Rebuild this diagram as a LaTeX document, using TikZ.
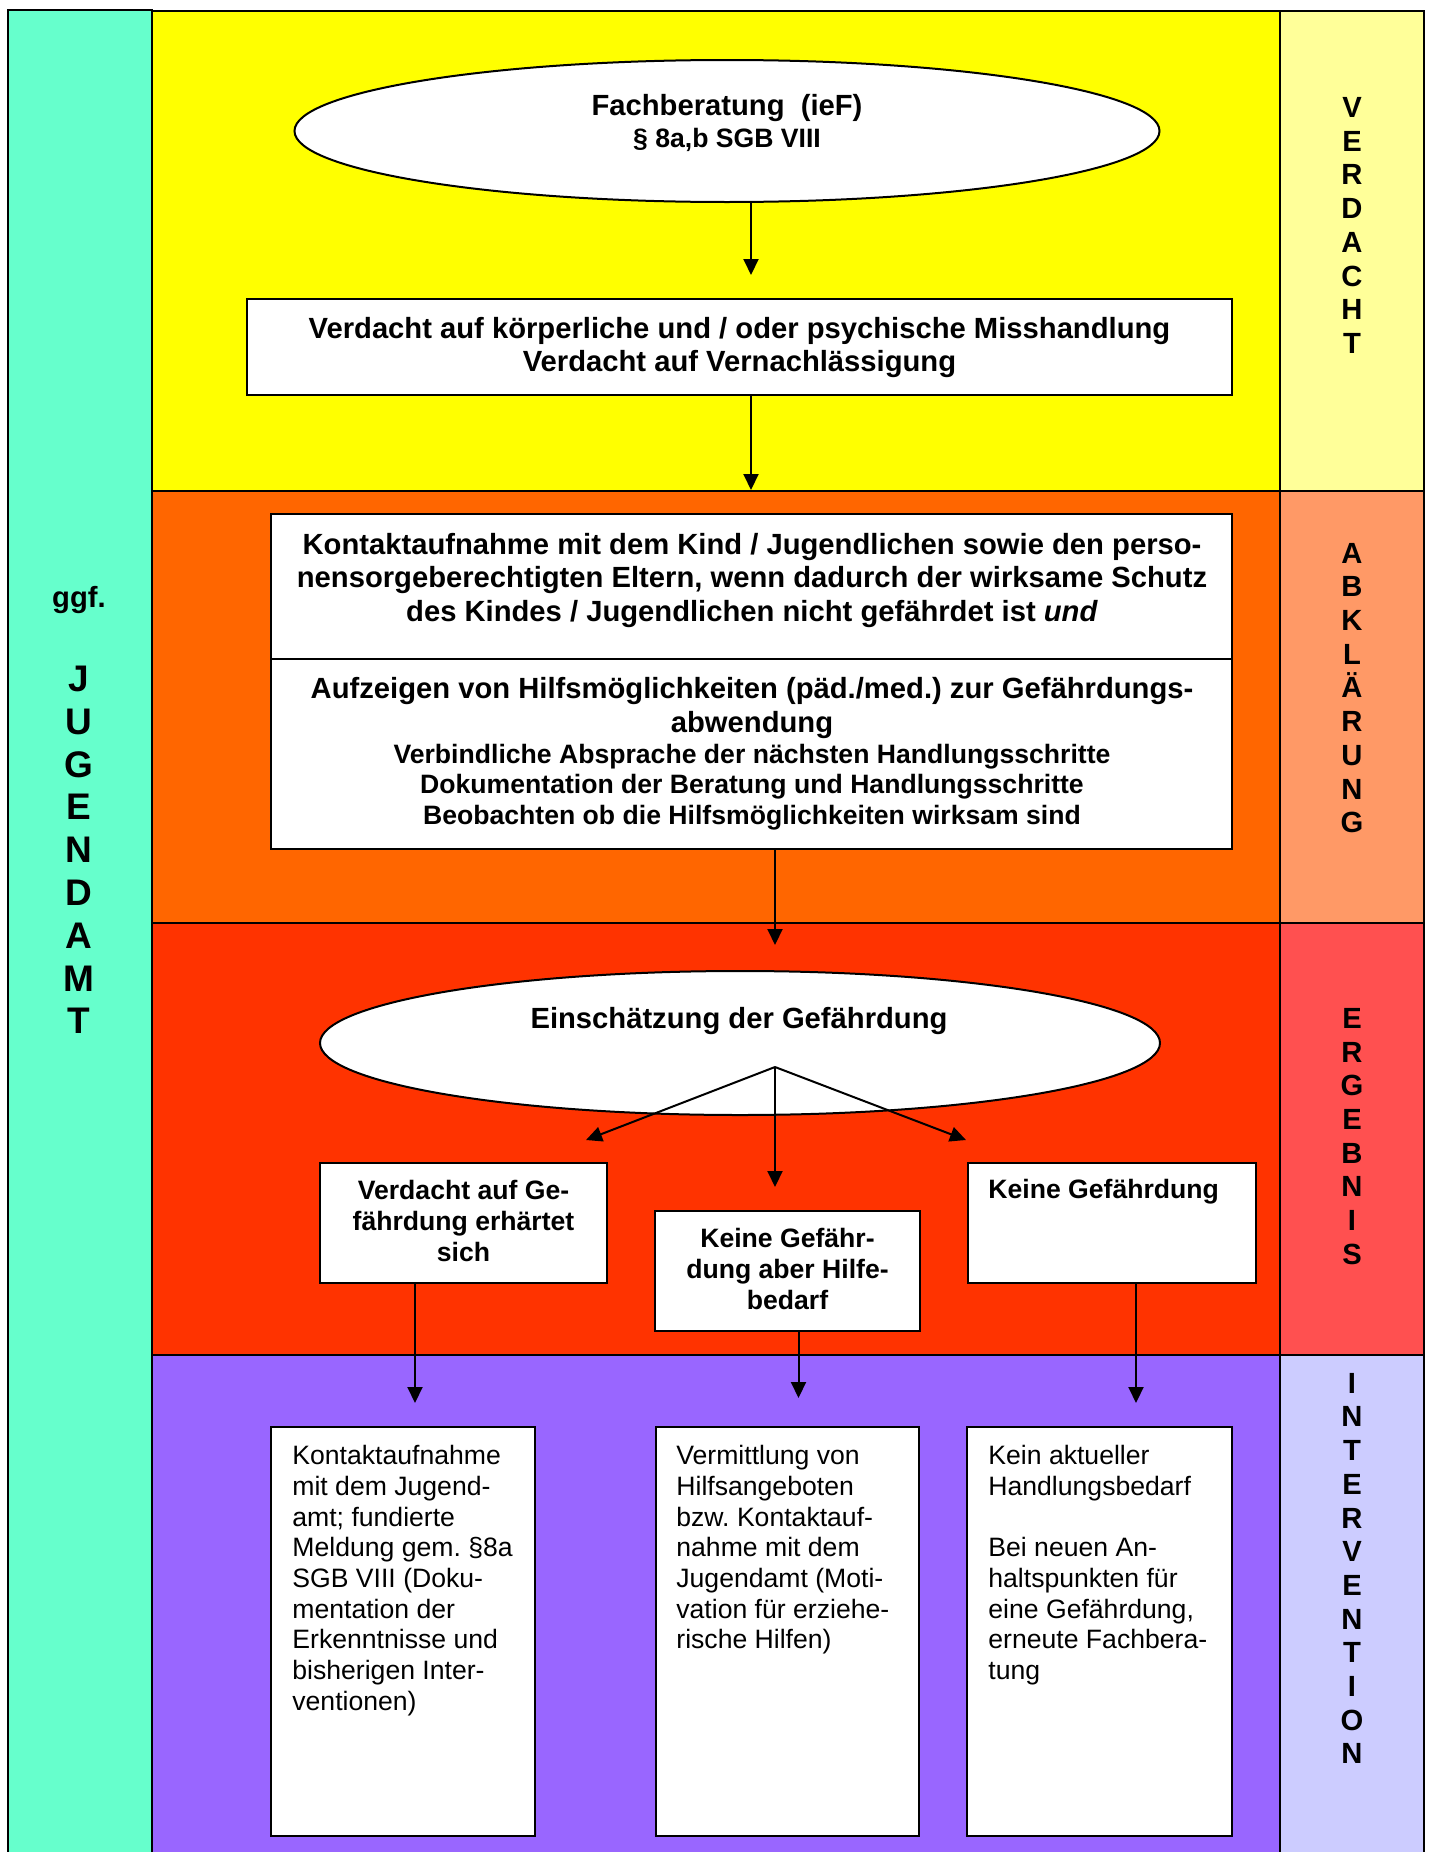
\documentclass[tikz,border=0pt]{standalone}
\usepackage{fontspec}
\setmainfont{Liberation Sans}
\frenchspacing
\usetikzlibrary{shapes.geometric,arrows.meta}
\definecolor{cyanc}{HTML}{66FFCC}
\definecolor{yelA}{HTML}{FFFF00}
\definecolor{yelB}{HTML}{FFFF99}
\definecolor{oraA}{HTML}{FF6600}
\definecolor{oraB}{HTML}{FF9966}
\definecolor{redA}{HTML}{FF3300}
\definecolor{redB}{HTML}{FF5050}
\definecolor{purA}{HTML}{9966FF}
\definecolor{purB}{HTML}{CCCCFF}
\tikzset{
  band/.style={draw=black, line width=1pt},
  wbox/.style={draw=black, fill=white, line width=1pt, rectangle, inner sep=0pt},
  oval/.style={draw=black, fill=white, line width=1pt, ellipse, inner sep=0pt},
  arr/.style={-{Triangle[length=8pt,width=7.5pt]}, line width=1pt},
  bigtxt/.style={font=\fontsize{14.6}{16.8}\selectfont\bfseries, align=center, inner sep=0pt},
  midtxt/.style={font=\fontsize{13.3}{15.4}\selectfont\bfseries, align=center, inner sep=0pt},
  regtxt/.style={font=\fontsize{13.3}{15.35}\selectfont, align=left, inner sep=0pt, anchor=north west},
  vlabel/.style={font=\fontsize{14.6}{16.85}\selectfont\bfseries, align=center, inner sep=0pt},
  jlabel/.style={font=\fontsize{18.5}{21.4}\selectfont\bfseries, align=center, inner sep=0pt}
}
\begin{document}
\begin{tikzpicture}[x=0.5pt, y=-0.5pt]
\useasboundingbox (0,0) rectangle (1431,1852);
\clip (0,0) rectangle (1431,1852);
% bands
\draw[band, fill=cyanc] (8,10) rectangle (152,1870);
\draw[band, fill=yelA] (152,11) rectangle (1280,491);
\draw[band, fill=yelB] (1280,11) rectangle (1424,491);
\draw[band, fill=oraA] (152,491) rectangle (1280,923);
\draw[band, fill=oraB] (1280,491) rectangle (1424,923);
\draw[band, fill=redA] (152,923) rectangle (1280,1355);
\draw[band, fill=redB] (1280,923) rectangle (1424,1355);
\draw[band, fill=purA] (152,1355) rectangle (1280,1870);
\draw[band, fill=purB] (1280,1355) rectangle (1424,1870);

% side labels
\node[vlabel] (lv) at (1352,225.5) {V\\E\\R\\D\\A\\C\\H\\T};
\node[vlabel] (la) at (1352,688) {A\\B\\K\\L\\Ä\\R\\U\\N\\G};
\node[vlabel] (le) at (1352,1136.5) {E\\R\\G\\E\\B\\N\\I\\S};
\node[vlabel] (li) at (1352,1568.5) {I\\N\\T\\E\\R\\V\\E\\N\\T\\I\\O\\N};
\node[vlabel, anchor=base] (lg) at (79,607) {ggf.};
\node[jlabel] (lj) at (79,850) {J\\U\\G\\E\\N\\D\\A\\M\\T};

% VERDACHT band
\node[oval, minimum width=432.5pt, minimum height=71pt] (fb) at (727,131) {};
\node[bigtxt] (fbt) at (727,108) {Fachberatung\ \ (ieF)};
\node[midtxt] (fbs) at (727,140) {§ 8a,b SGB VIII};
\coordinate (c1) at (751,275);
\draw[arr] (fb.south -| c1) -- (c1);

\node[wbox, minimum width=492.5pt, minimum height=48pt] (vd) at (739.5,347) {};
\node[bigtxt] (vdt) at (739.5,347.5) {Verdacht auf körperliche und / oder psychische Misshandlung\\Verdacht auf Vernachlässigung};
\coordinate (c2) at (751,490);
\draw[arr] (vd.south -| c2) -- (c2);

% ABKLAERUNG band
\node[wbox, minimum width=480.5pt, minimum height=72.5pt] (kt) at (751.5,586.5) {};
\node[wbox, minimum width=480.5pt, minimum height=95pt] (hm) at (751.5,754) {};
\node[bigtxt] (ktt) at (752,580.5) {Kontaktaufnahme mit dem Kind / Jugendlichen sowie den perso-\\nensorgeberechtigten Eltern, wenn dadurch der wirksame Schutz\\des Kindes / Jugendlichen nicht gefährdet ist \textit{und}};
\node[bigtxt] (hmt) at (752,708) {Aufzeigen von Hilfsmöglichkeiten (päd./med.) zur Gefährdungs-\\abwendung};
\node[midtxt] (hms) at (752,787) {Verbindliche Absprache der nächsten Handlungsschritte\\Dokumentation der Beratung und Handlungsschritte\\Beobachten ob die Hilfsmöglichkeiten wirksam sind};
\coordinate (c3) at (775,945);
\draw[arr] (hm.south -| c3) -- (c3);

% ERGEBNIS band
\node[oval, minimum width=420pt, minimum height=72pt] (eg) at (740,1043) {};
\node[bigtxt] (egt) at (739,1021) {Einschätzung der Gefährdung};
\coordinate (br) at (775,1067);
\coordinate (tl) at (586,1140);
\coordinate (tm) at (775,1187);
\coordinate (tr) at (966,1140);
\draw[arr] (br) -- (tl);
\draw[arr] (br) -- (tm);
\draw[arr] (br) -- (tr);

\node[wbox, minimum width=143.5pt, minimum height=60pt] (ba) at (463.5,1223) {};
\node[midtxt] (bat) at (463.5,1221) {Verdacht auf Ge-\\fährdung erhärtet\\sich};
\node[wbox, minimum width=132.5pt, minimum height=60pt] (bb) at (787.5,1271) {};
\node[midtxt] (bbt) at (787.5,1269) {Keine Gefähr-\\dung aber Hilfe-\\bedarf};
\node[wbox, minimum width=144pt, minimum height=60pt] (bc) at (1112,1223) {};
\node[midtxt, anchor=base west] (bct) at (988,1198) {Keine Gefährdung};

% INTERVENTION band
\coordinate (da) at (415,1403);
\coordinate (db) at (798.5,1398);
\coordinate (dc) at (1136,1403);
\draw[arr] (ba.south -| da) -- (da);
\draw[arr] (bb.south -| db) -- (db);
\draw[arr] (bc.south -| dc) -- (dc);

\node[wbox, minimum width=132pt, minimum height=204.5pt] (i1) at (403,1631.5) {};
\node[wbox, minimum width=131.5pt, minimum height=204.5pt] (i2) at (787.5,1631.5) {};
\node[wbox, minimum width=132.5pt, minimum height=204.5pt] (i3) at (1099.5,1631.5) {};
\node[regtxt] (i1t) at (292,1445) {Kontaktaufnahme\\mit dem Jugend-\\amt; fundierte\\Meldung gem. §8a\\SGB VIII (Doku-\\mentation der\\Erkenntnisse und\\bisherigen Inter-\\ventionen)};
\node[regtxt] (i2t) at (676,1445) {Vermittlung von\\Hilfsangeboten\\bzw. Kontaktauf-\\nahme mit dem\\Jugendamt (Moti-\\vation für erziehe-\\rische Hilfen)};
\node[regtxt] (i3t) at (988,1445) {Kein aktueller\\Handlungsbedarf\\[15.35pt]Bei neuen An-\\haltspunkten für\\eine Gefährdung,\\erneute Fachbera-\\tung};
\end{tikzpicture}
\end{document}
